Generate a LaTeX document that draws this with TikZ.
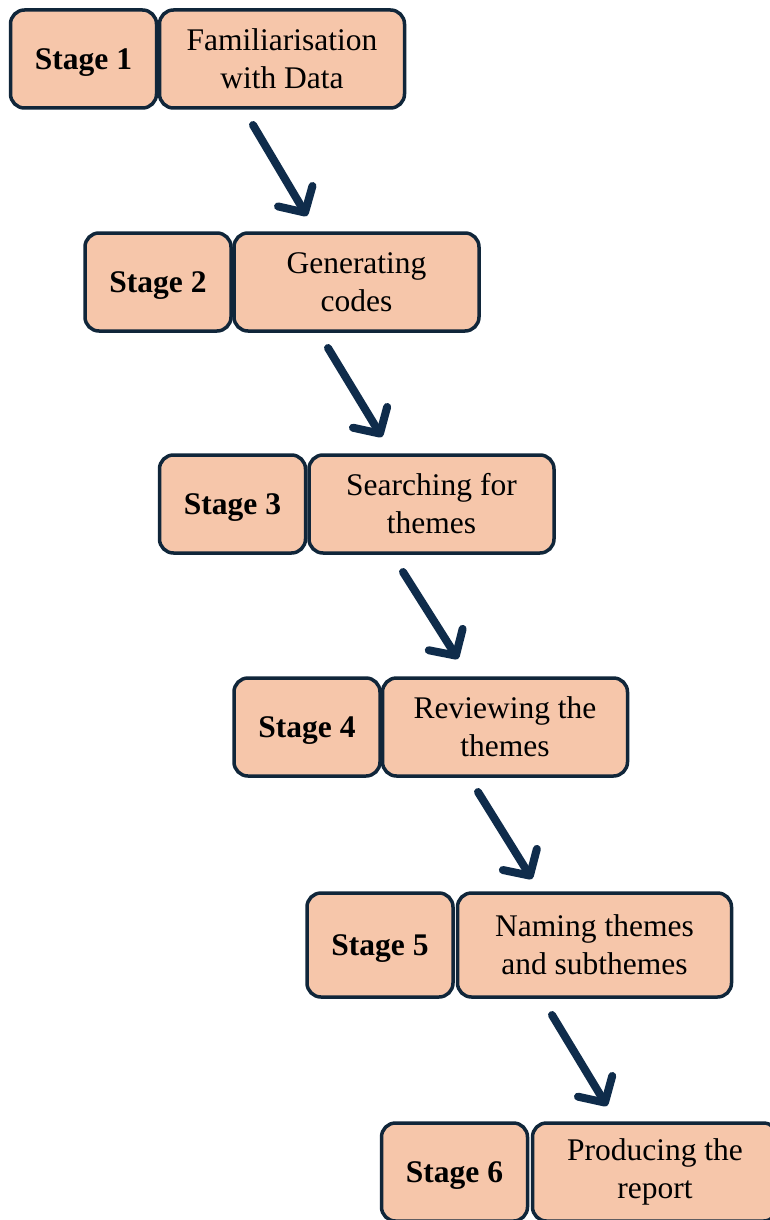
\documentclass[tikz,border=0pt]{standalone}
\usepackage{fontspec}
\setmainfont{Liberation Serif}
\usetikzlibrary{arrows.meta}
\definecolor{boxfill}{HTML}{F6C6AA}
\definecolor{boxline}{HTML}{10263A}
\definecolor{arrowcol}{HTML}{0F2C4B}
\begin{document}
\begin{tikzpicture}[x=1pt,y=-1pt,
  stagebox/.style={draw=boxline, fill=boxfill, line width=3.5pt, rounded corners=14pt,
    minimum height=98pt, minimum width=146pt, inner sep=0pt, text depth=0pt,
    font=\fontsize{31.5}{38}\selectfont\bfseries},
  descbox/.style={draw=boxline, fill=boxfill, line width=3.5pt, rounded corners=14pt,
    minimum height=98pt, minimum width=245pt, inner sep=0pt, align=center,
    font=\fontsize{31.5}{38}\selectfont},
  flowarrow/.style={draw=arrowcol, line width=8pt, line cap=round,
    -{Straight Barb[length=19pt, width=40pt, line cap=round, line join=round]}}]
\useasboundingbox (0,0) rectangle (770,1220);
\fill[white] (0,0) rectangle (770,1220);
% Stage 1
\node[stagebox] (s1) at (83.5,59) {Stage 1};
\node[descbox] (d1) at (282,59) {Familiarisation\\with Data};
% Stage 2
\node[stagebox] (s2) at (158,282) {Stage 2};
\node[descbox] (d2) at (356.5,282) {Generating\\codes};
% Stage 3
\node[stagebox] (s3) at (232.5,504) {Stage 3};
\node[descbox] (d3) at (431.5,504) {Searching for\\themes};
% Stage 4
\node[stagebox] (s4) at (307,727) {Stage 4};
\node[descbox] (d4) at (505,727) {Reviewing the\\themes};
% Stage 5
\node[stagebox, minimum height=104pt] (s5) at (380,945) {Stage 5};
\node[descbox, minimum height=104pt, minimum width=274pt] (d5) at (594.5,945) {Naming themes\\and subthemes};
% Stage 6
\node[stagebox] (s6) at (454.5,1172) {Stage 6};
\node[descbox] (d6) at (655,1172) {Producing the\\report};
% arrows
\coordinate (a1s) at (253,125); \coordinate (a1e) at (307,216);
\coordinate (a2s) at (328,348); \coordinate (a2e) at (382,437);
\coordinate (a3s) at (403,572); \coordinate (a3e) at (458,659);
\coordinate (a4s) at (478,792); \coordinate (a4e) at (532,879);
\coordinate (a5s) at (552,1015); \coordinate (a5e) at (607,1106);
\draw[flowarrow] (a1s) -- (a1e);
\draw[flowarrow] (a2s) -- (a2e);
\draw[flowarrow] (a3s) -- (a3e);
\draw[flowarrow] (a4s) -- (a4e);
\draw[flowarrow] (a5s) -- (a5e);
\end{tikzpicture}
\end{document}
